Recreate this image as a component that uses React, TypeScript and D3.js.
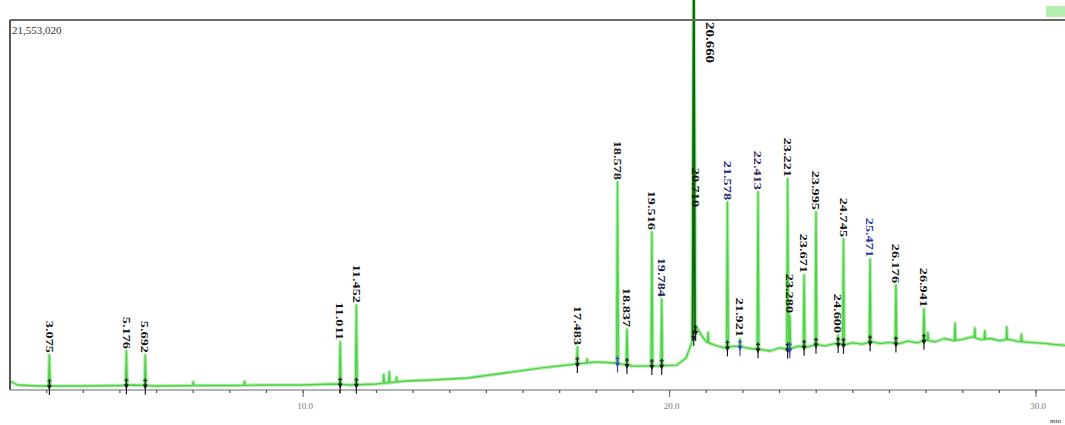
import * as d3 from 'd3'

// retention window (min) and full-scale counts
const timeDomain = [2.0, 30.79]
const fullScale = 21553020

// labelled peaks: retention time, apex intensity (counts)
const peakTimes = [3.075, 5.176, 5.692, 11.011, 11.452, 17.483, 18.578, 18.837, 19.516, 19.784, 20.66, 20.71, 21.578, 21.921, 22.413, 23.221, 23.28, 23.671, 23.995, 24.6, 24.745, 25.471, 26.176, 26.941]
const peakHeights = [1990000, 2220000, 1990000, 2750000, 4910000, 2450000, 12090000, 3500000, 9170000, 5260000, 26500000, 10510000, 10920000, 2920000, 11510000, 12270000, 4320000, 6660000, 10340000, 3150000, 8760000, 7590000, 6070000, 4670000]
const peakLabels = ['3.075', '5.176', '5.692', '11.011', '11.452', '17.483', '18.578', '18.837', '19.516', '19.784', '20.660', '20.710', '21.578', '21.921', '22.413', '23.221', '23.280', '23.671', '23.995', '24.600', '24.745', '25.471', '26.176', '26.941']

// small unlabelled spikes in the trace
const spikeTimes = [7.0, 8.4, 12.2, 12.35, 12.55, 17.75, 21.05, 27.05, 27.79, 28.33, 28.6, 29.2, 29.6]
const spikeHeights = [420000, 450000, 850000, 1000000, 700000, 1750000, 3300000, 3300000, 3850000, 3560000, 3400000, 3620000, 3200000]

// baseline / drift of the trace
const baseTimes = [2.0, 2.2, 2.8, 4.0, 5.0, 5.4, 6.0, 7.0, 8.0, 9.0, 10.0, 10.8, 11.3, 12.0, 12.8, 13.5, 14.5, 15.5, 16.5, 17.2, 18.0, 18.5, 19.0, 19.6, 20.2, 20.45, 20.58, 20.75, 20.9, 21.0, 21.25, 21.5, 21.75, 22.0, 22.25, 22.5, 22.75, 23.0, 23.25, 23.5, 23.75, 24.0, 24.25, 24.5, 24.75, 25.0, 25.25, 25.5, 25.75, 26.0, 26.25, 26.5, 26.75, 27.0, 27.25, 27.5, 27.75, 28.0, 28.25, 28.5, 28.75, 29.0, 29.25, 29.5, 29.75, 30.0, 30.25, 30.5, 30.79]
const baseValues = [467000, 234000, 175000, 175000, 204000, 234000, 175000, 204000, 204000, 234000, 234000, 292000, 234000, 292000, 467000, 526000, 643000, 935000, 1230000, 1400000, 1580000, 1520000, 1340000, 1340000, 1400000, 1810000, 2570000, 3560000, 3040000, 2750000, 2550000, 2400000, 2500000, 2450000, 2350000, 2300000, 2220000, 2400000, 2300000, 2500000, 2450000, 2600000, 2520000, 2650000, 2580000, 2700000, 2620000, 2750000, 2660000, 2720000, 2640000, 2800000, 2700000, 2850000, 2760000, 2950000, 2820000, 2900000, 3050000, 2880000, 2950000, 2820000, 2900000, 2780000, 2740000, 2700000, 2660000, 2600000, 2550000]

const majorTicks = [10, 20, 30]

const W = 1065
const H = 425
const left = 10
const top = 20
const axisY = 390

const blueLabels: Record<string, string> = {
  '21.578': '#23237a',
  '22.413': '#3a1f5e',
  '25.471': '#2535a0',
  '19.784': '#20205a',
}

export default function App() {
  const x = d3.scaleLinear().domain(timeDomain).range([left, W])
  const y = d3.scaleLinear().domain([0, fullScale]).range([389, top])
  const base = d3.scaleLinear().domain(baseTimes).range(baseValues)

  const maxH = d3.max(peakHeights) as number
  const bumps = [
    ...peakTimes.map((t, i) => ({ t, h: peakHeights[i], w: peakHeights[i] === maxH ? 0.05 : 0.025 })),
    ...spikeTimes.map((t, i) => ({ t, h: spikeHeights[i], w: 0.018 })),
  ]
  // the shoulder peak sits on the big one: skip drawing it as its own spike
  const drawn = bumps.filter(b => !(b.t > 20.67 && b.t < 20.72))

  const pts: [number, number][] = []
  baseTimes.forEach((t, i) => {
    if (!drawn.some(b => t >= b.t - b.w && t <= b.t + b.w)) pts.push([t, baseValues[i]])
  })
  drawn.forEach(b => {
    pts.push([b.t - b.w, base(b.t - b.w)])
    pts.push([b.t, b.h])
    pts.push([b.t + b.w, base(b.t + b.w)])
  })
  pts.sort((a, b) => a[0] - b[0])

  const line = d3.line<[number, number]>().x(d => x(d[0])).y(d => y(d[1]))
  const trace = line(pts) || ''

  const big = drawn.find(b => b.h === maxH)!
  const bigPath = line([[big.t - big.w * 0.6, 2800000], [big.t, big.h], [big.t + big.w * 0.6, 3300000]]) || ''

  const minorTicks = d3.range(3, 31)

  return (
    <svg width={W} height={H} style={{ position: 'absolute', left: 0, top: 0, background: '#fff' }}>
      <rect x={1046} y={6} width={19} height={11} fill="#b5efb0" />

      {/* trace */}
      <path d={trace} fill="none" stroke="#b3f0ad" strokeWidth={3.6} strokeLinejoin="round" />
      <path d={trace} fill="none" stroke="#4fcf4a" strokeWidth={1.3} strokeLinejoin="round" />
      <path d={bigPath} fill="none" stroke="#0d650d" strokeWidth={1.8} />

      {/* frame */}
      <line x1={left} x2={W} y1={top} y2={top} stroke="#6b6b6b" strokeWidth={2} />
      <line x1={left} x2={left} y1={top} y2={axisY} stroke="#555" strokeWidth={2} />
      <line x1={left} x2={W} y1={axisY} y2={axisY} stroke="#9a9a9a" strokeWidth={1.6} />

      {minorTicks.map(t => (
        <line key={'m' + t} x1={x(t)} x2={x(t)} y1={axisY} y2={axisY + 3} stroke="#555" strokeWidth={1.2} />
      ))}
      {majorTicks.map(t => (
        <g key={'M' + t}>
          <line x1={x(t)} x2={x(t)} y1={axisY} y2={axisY + 7} stroke="#666" strokeWidth={1} />
          <text x={x(t) + 2} y={axisY + 19} fontSize={9} fontFamily="Liberation Serif" fill="#777" textAnchor="middle">
            {t.toFixed(1)}
          </text>
        </g>
      ))}
      <text x={1050} y={423} fontSize={7} fontFamily="Liberation Serif" fill="#333">min</text>

      <text x={12} y={34} fontSize={11} fontFamily="Liberation Serif" fill="#333">{d3.format(',')(fullScale)}</text>

      {/* integration markers at peak bases */}
      {peakTimes.map((t, i) => {
        const px = x(t)
        const by = y(base(t))
        const c = i === 6 || i === 13 || i === 16 ? '#3a44c0' : '#1b1b1b'
        return (
          <g key={'k' + i} stroke={c} fill={c}>
            <line x1={px} x2={px} y1={by - 7} y2={by + 9} strokeWidth={1.2} />
            <path d={`M${px - 2.5},${by - 1}L${px + 2.5},${by - 1}L${px},${by + 4}Z`} stroke="none" />
            <line x1={px - 2} x2={px + 2} y1={by - 5} y2={by - 5} strokeWidth={1} />
          </g>
        )
      })}

      {/* peak labels */}
      {peakTimes.map((t, i) => {
        const px = x(t)
        const py = y(peakHeights[i])
        const lbl = peakLabels[i]
        if (py < top) {
          return (
            <text key={'l' + i} transform={`translate(${px + 16},${top + 2}) rotate(90) scale(1.3,1)`} dy="0.35em"
              fontSize={11.5} fontWeight="bold" fontFamily="Liberation Serif" fill="#111">
              {lbl}
            </text>
          )
        }
        return (
          <text key={'l' + i} transform={`translate(${px},${py - 2}) rotate(90) scale(1.3,1)`} dy="0.35em" textAnchor="end"
            fontSize={11} fontWeight="bold" fontFamily="Liberation Serif" fill={blueLabels[lbl] || '#151515'}>
            {lbl}
          </text>
        )
      })}
    </svg>
  )
}
